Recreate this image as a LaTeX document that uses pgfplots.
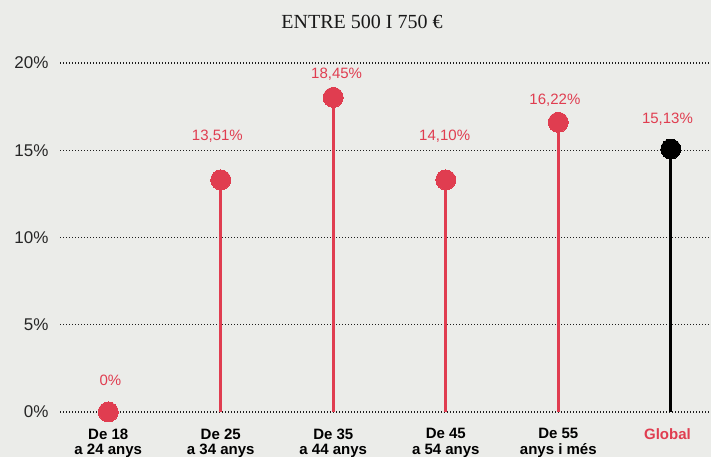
\documentclass[border=0pt]{standalone}
\usepackage{fontspec}
\setmainfont{Liberation Sans}
\newfontfamily\titlefont{Liberation Serif}
\usepackage{pgfplots}
\pgfplotsset{compat=1.18}
\definecolor{bg}{RGB}{235,236,233}
\definecolor{myred}{RGB}{224,61,80}
\definecolor{gridc}{RGB}{30,30,30}
\begin{document}
\begin{tikzpicture}[x=1pt,y=1pt]
\useasboundingbox (0,0) rectangle (711,457);
\clip (0,0) rectangle (711,457);
\fill[bg] (0,0) rectangle (711,457);
\node[font=\titlefont\fontsize{20}{24}\selectfont, text=black!90] at (362,435) {ENTRE 500 I 750 €};
\begin{axis}[
  at={(60pt,45pt)}, anchor=south west,
  scale only axis, width=651pt, height=349pt,
  xmin=-0.4286, xmax=5.3571, ymin=0, ymax=20,
  axis line style={draw=none}, tick style={draw=none}, clip=false,
  ymajorgrids, major grid style={draw=gridc, line width=1.2pt, dash pattern=on 1.2pt off 1.8pt},
  ytick={0,5,10,15,20},
  yticklabels={0\%,5\%,10\%,15\%,20\%},
  yticklabel style={font=\fontsize{17}{20}\selectfont, text=black!85, anchor=east, xshift=-8pt},
  /pgf/number format/assume math mode=true,
  xtick=\empty,
]
\addplot[myred, line width=2.8pt, ycomb, mark=*, mark size=10pt, mark options={fill=myred, draw=myred, line width=0pt}]
  coordinates {(0,0) (1,13.3) (2,18.03) (3,13.3) (4,16.6)};
\addplot[black, line width=2.8pt, ycomb, mark=*, mark size=10pt, mark options={fill=black, draw=black, line width=0pt}]
  coordinates {(5,15.07)};
\begin{scope}[every node/.style={font=\fontsize{15}{17}\selectfont, text=myred}]
\node at (axis cs:0.02,1.83) {0\%};
\node at (axis cs:0.97,15.78) {13,51\%};
\node at (axis cs:2.03,19.37) {18,45\%};
\node at (axis cs:2.99,15.78) {14,10\%};
\node at (axis cs:3.97,17.88) {16,22\%};
\node at (axis cs:4.97,16.79) {15,13\%};
\end{scope}
\begin{scope}[every node/.style={font=\bfseries\fontsize{15}{15.5}\selectfont, align=center, anchor=north}]
\node at (axis cs:0,-0.75) {De 18\\a 24 anys};
\node at (axis cs:1,-0.75) {De 25\\a 34 anys};
\node at (axis cs:2,-0.75) {De 35\\a 44 anys};
\node at (axis cs:3,-0.75) {De 45\\a 54 anys};
\node at (axis cs:4,-0.75) {De 55\\anys i més};
\node[text=myred] at (axis cs:4.97,-0.75) {Global};
\end{scope}
\end{axis}
\end{tikzpicture}
\end{document}
